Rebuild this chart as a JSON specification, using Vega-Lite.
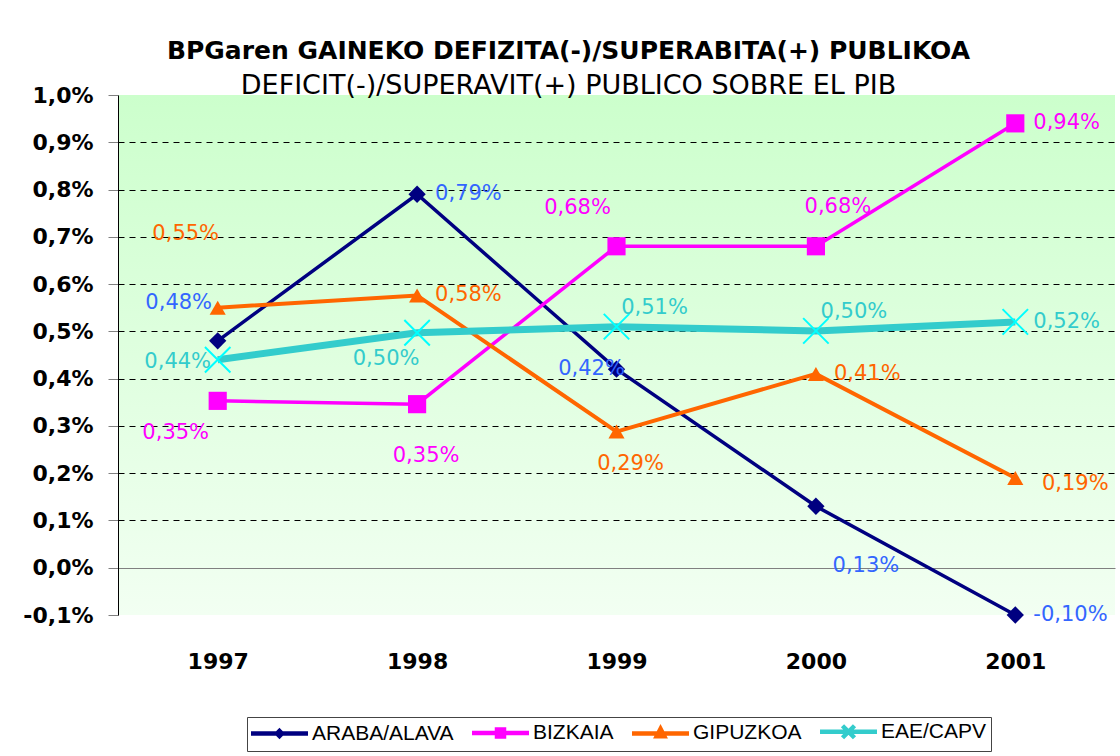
{
  "$schema": "https://vega.github.io/schema/vega-lite/v6.json",
  "width": 997,
  "height": 520,
  "autosize": {"type": "none"},
  "padding": {"left": 118, "top": 95, "right": 5, "bottom": 141},
  "background": "white",
  "config": {
    "locale": {"number": {"decimal": ",", "thousands": ".", "grouping": [3], "currency": ["", " €"], "minus": "-"}},
    "view": {"stroke": null, "fill": {"gradient": "linear", "x1": 0, "y1": 0, "x2": 0, "y2": 1, "stops": [{"offset": 0, "color": "#CCFFCC"}, {"offset": 1, "color": "#F2FFF2"}]}}
  },
  "title": {
    "text": "BPGaren GAINEKO DEFIZITA(-)/SUPERABITA(+) PUBLIKOA",
    "subtitle": "DEFICIT(-)/SUPERAVIT(+) PUBLICO SOBRE EL PIB",
    "frame": "group", "anchor": "middle", "dx": -48, "offset": -15,
    "font": "DejaVu Sans", "fontSize": 25, "fontWeight": "bold", "color": "black",
    "subtitleFont": "DejaVu Sans", "subtitleFontSize": 27, "subtitleFontWeight": "normal", "subtitleColor": "black", "subtitlePadding": 9
  },
  "data": {"values": [
    {"s": "ARABA/ALAVA", "year": "1997", "v": 0.0048},
    {"s": "ARABA/ALAVA", "year": "1998", "v": 0.0079},
    {"s": "ARABA/ALAVA", "year": "1999", "v": 0.0042},
    {"s": "ARABA/ALAVA", "year": "2000", "v": 0.0013},
    {"s": "ARABA/ALAVA", "year": "2001", "v": -0.001},
    {"s": "BIZKAIA", "year": "1997", "v": 0.00353},
    {"s": "BIZKAIA", "year": "1998", "v": 0.00346},
    {"s": "BIZKAIA", "year": "1999", "v": 0.0068},
    {"s": "BIZKAIA", "year": "2000", "v": 0.0068},
    {"s": "BIZKAIA", "year": "2001", "v": 0.0094},
    {"s": "GIPUZKOA", "year": "1997", "v": 0.0055},
    {"s": "GIPUZKOA", "year": "1998", "v": 0.00576},
    {"s": "GIPUZKOA", "year": "1999", "v": 0.00288},
    {"s": "GIPUZKOA", "year": "2000", "v": 0.0041},
    {"s": "GIPUZKOA", "year": "2001", "v": 0.0019},
    {"s": "EAE/CAPV", "year": "1997", "v": 0.0044},
    {"s": "EAE/CAPV", "year": "1998", "v": 0.00497},
    {"s": "EAE/CAPV", "year": "1999", "v": 0.0051},
    {"s": "EAE/CAPV", "year": "2000", "v": 0.00501},
    {"s": "EAE/CAPV", "year": "2001", "v": 0.0052}
  ]},
  "encoding": {
    "x": {"field": "year", "type": "ordinal", "scale": {"type": "point", "padding": 0.5},
      "axis": {"title": null, "domain": false, "ticks": false, "grid": false, "labelAngle": 0, "labelFont": "DejaVu Sans", "labelFontWeight": "bold", "labelFontSize": 22, "labelColor": "black", "labelPadding": 36}},
    "y": {"field": "v", "type": "quantitative", "scale": {"domain": [-0.001, 0.01], "nice": false, "zero": false},
      "axis": {"title": null, "values": [-0.001, 0, 0.001, 0.002, 0.003, 0.004, 0.005, 0.006, 0.007, 0.008, 0.009, 0.01], "format": ".1%",
        "labelFont": "DejaVu Sans", "labelFontWeight": "bold", "labelFontSize": 22, "labelColor": "black", "labelPadding": 15,
        "tickSize": 10, "tickColor": "#808080", "domainColor": "black", "domainWidth": 1,
        "grid": true, "gridWidth": 1,
        "gridColor": {"condition": {"test": "abs(datum.value) < 0.00001", "value": "#808080"}, "value": "black"},
        "gridDash": {"condition": {"test": "abs(datum.value) < 0.00001", "value": []}, "value": [6, 5]},
        "gridOpacity": {"condition": {"test": "datum.value > 0.0095 || datum.value < -0.0005", "value": 0}, "value": 1}}}
  },
  "layer": [
    {
      "transform": [{"filter": "datum.s === 'ARABA/ALAVA'"}],
      "mark": {"type": "line", "color": "#000080", "strokeWidth": 3.5},
      "encoding": {}
    },
    {
      "transform": [{"filter": "datum.s === 'BIZKAIA'"}],
      "mark": {"type": "line", "color": "#FF00FF", "strokeWidth": 3.5},
      "encoding": {}
    },
    {
      "transform": [{"filter": "datum.s === 'GIPUZKOA'"}],
      "mark": {"type": "line", "color": "#FF6600", "strokeWidth": 4},
      "encoding": {}
    },
    {
      "transform": [{"filter": "datum.s === 'EAE/CAPV'"}],
      "mark": {"type": "line", "color": "#33CCCC", "strokeWidth": 7},
      "encoding": {}
    },
    {
      "mark": {"type": "point", "filled": false, "opacity": 0, "strokeWidth": 4.5},
      "encoding": {
        "color": {"field": "s", "type": "nominal",
          "scale": {"domain": ["ARABA/ALAVA", "BIZKAIA", "GIPUZKOA", "EAE/CAPV"], "range": ["#000080", "#FF00FF", "#FF6600", "#33CCCC"]},
          "legend": {
            "orient": "none", "legendX": 129, "legendY": 622, "direction": "horizontal", "title": null,
            "strokeColor": "#444444", "fillColor": "white", "padding": 4,
            "symbolSize": 100, "symbolStrokeWidth": 4.5, "symbolOpacity": 1, "symbolOffset": 18,
            "labelFont": "Liberation Sans", "labelFontSize": 21, "labelColor": "black", "labelOffset": 22, "columnPadding": 9
          }},
        "shape": {"field": "s", "type": "nominal",
          "scale": {"domain": ["ARABA/ALAVA", "BIZKAIA", "GIPUZKOA", "EAE/CAPV"], "range": ["M-5.7,0H5.7M0,-0.5L0.5,0L0,0.5L-0.5,0Z", "M-5.7,0H5.7M-0.7,-0.7H0.7V0.7H-0.7Z", "M-5.7,0H5.7M0,-0.9L0.75,0.55H-0.75Z", "M-5.7,0H5.7M-1.2,-1.2L1.2,1.2M1.2,-1.2L-1.2,1.2"]},
          "legend": {
            "orient": "none", "legendX": 129, "legendY": 622, "direction": "horizontal", "title": null,
            "strokeColor": "#444444", "fillColor": "white", "padding": 4,
            "symbolSize": 100, "symbolStrokeWidth": 4.5, "symbolOpacity": 1, "symbolOffset": 18,
            "labelFont": "Liberation Sans", "labelFontSize": 21, "labelColor": "black", "labelOffset": 22, "columnPadding": 9
          }}
      }
    },
    {
      "transform": [{"filter": "datum.s === 'ARABA/ALAVA'"}],
      "mark": {"type": "point", "filled": true, "opacity": 1, "shape": "diamond", "color": "#000080", "size": 300},
      "encoding": {}
    },
    {
      "transform": [{"filter": "datum.s === 'BIZKAIA'"}],
      "mark": {"type": "point", "filled": true, "opacity": 1, "shape": "square", "color": "#FF00FF", "size": 330},
      "encoding": {}
    },
    {
      "transform": [{"filter": "datum.s === 'GIPUZKOA'"}],
      "mark": {"type": "point", "filled": true, "opacity": 1, "shape": "triangle-up", "color": "#FF6600", "size": 260},
      "encoding": {}
    },
    {
      "transform": [{"filter": "datum.s === 'EAE/CAPV'"}],
      "mark": {"type": "point", "shape": "M-1,-1L1,1M1,-1L-1,1", "filled": false, "stroke": "#00FFFF", "strokeWidth": 2, "size": 650, "opacity": 1},
      "encoding": {}
    },
    {
      "transform": [{"filter": "indexof(['ARABA/ALAVA|1998','ARABA/ALAVA|2001','BIZKAIA|2001','GIPUZKOA|1998','GIPUZKOA|2000','EAE/CAPV|2001'], datum.s + '|' + datum.year) >= 0"}],
      "mark": {"type": "text", "font": "DejaVu Sans", "fontSize": 21, "align": "left", "baseline": "middle", "dx": 18, "dy": 0},
      "encoding": {
        "text": {"field": "v", "type": "quantitative", "format": ".2%"},
        "fill": {"field": "s", "type": "nominal", "scale": {"domain": ["ARABA/ALAVA", "BIZKAIA", "GIPUZKOA", "EAE/CAPV"], "range": ["#3366FF", "#FF00FF", "#FF6600", "#33CCCC"]}, "legend": null}
      }
    },
    {
      "transform": [{"filter": "indexof(['ARABA/ALAVA|1997','BIZKAIA|1999'], datum.s + '|' + datum.year) >= 0"}],
      "mark": {"type": "text", "font": "DejaVu Sans", "fontSize": 21, "align": "center", "baseline": "middle", "dx": -39, "dy": -38},
      "encoding": {"text": {"field": "v", "type": "quantitative", "format": ".2%"}, "fill": {"field": "s", "type": "nominal", "legend": null}}
    },
    {
      "transform": [{"filter": "datum.s === 'ARABA/ALAVA' && datum.year === '1999'"}],
      "mark": {"type": "text", "font": "DejaVu Sans", "fontSize": 21, "align": "center", "baseline": "middle", "dx": -25, "dy": 0},
      "encoding": {"text": {"field": "v", "type": "quantitative", "format": ".2%"}, "fill": {"field": "s", "type": "nominal", "legend": null}}
    },
    {
      "transform": [{"filter": "datum.s === 'ARABA/ALAVA' && datum.year === '2000'"}],
      "mark": {"type": "text", "font": "DejaVu Sans", "fontSize": 21, "align": "center", "baseline": "middle", "dx": 50, "dy": 60},
      "encoding": {"text": {"field": "v", "type": "quantitative", "format": ".2%"}, "fill": {"field": "s", "type": "nominal", "legend": null}}
    },
    {
      "transform": [{"filter": "datum.s === 'BIZKAIA' && datum.year === '1997'"}],
      "mark": {"type": "text", "font": "DejaVu Sans", "fontSize": 21, "align": "center", "baseline": "middle", "dx": -42, "dy": 32},
      "encoding": {"text": {"field": "v", "type": "quantitative", "format": ".2%"}, "fill": {"field": "s", "type": "nominal", "legend": null}}
    },
    {
      "transform": [{"filter": "datum.s === 'BIZKAIA' && datum.year === '1998'"}],
      "mark": {"type": "text", "font": "DejaVu Sans", "fontSize": 21, "align": "center", "baseline": "middle", "dx": 9, "dy": 52},
      "encoding": {"text": {"field": "v", "type": "quantitative", "format": ".2%"}, "fill": {"field": "s", "type": "nominal", "legend": null}}
    },
    {
      "transform": [{"filter": "datum.s === 'BIZKAIA' && datum.year === '2000'"}],
      "mark": {"type": "text", "font": "DejaVu Sans", "fontSize": 21, "align": "center", "baseline": "middle", "dx": 22, "dy": -39},
      "encoding": {"text": {"field": "v", "type": "quantitative", "format": ".2%"}, "fill": {"field": "s", "type": "nominal", "legend": null}}
    },
    {
      "transform": [{"filter": "datum.s === 'GIPUZKOA' && datum.year === '1997'"}],
      "mark": {"type": "text", "font": "DejaVu Sans", "fontSize": 21, "align": "center", "baseline": "middle", "dx": -32, "dy": -74},
      "encoding": {"text": {"field": "v", "type": "quantitative", "format": ".2%"}, "fill": {"field": "s", "type": "nominal", "legend": null}}
    },
    {
      "transform": [{"filter": "datum.s === 'GIPUZKOA' && datum.year === '1999'"}],
      "mark": {"type": "text", "font": "DejaVu Sans", "fontSize": 21, "align": "center", "baseline": "middle", "dx": 14, "dy": 32},
      "encoding": {"text": {"field": "v", "type": "quantitative", "format": ".2%"}, "fill": {"field": "s", "type": "nominal", "legend": null}}
    },
    {
      "transform": [{"filter": "datum.s === 'GIPUZKOA' && datum.year === '2001'"}],
      "mark": {"type": "text", "font": "DejaVu Sans", "fontSize": 21, "align": "center", "baseline": "middle", "dx": 60, "dy": 6},
      "encoding": {"text": {"field": "v", "type": "quantitative", "format": ".2%"}, "fill": {"field": "s", "type": "nominal", "legend": null}}
    },
    {
      "transform": [{"filter": "datum.s === 'EAE/CAPV' && datum.year === '1997'"}],
      "mark": {"type": "text", "font": "DejaVu Sans", "fontSize": 21, "align": "center", "baseline": "middle", "dx": -40, "dy": 2},
      "encoding": {"text": {"field": "v", "type": "quantitative", "format": ".2%"}, "fill": {"field": "s", "type": "nominal", "legend": null}}
    },
    {
      "transform": [{"filter": "datum.s === 'EAE/CAPV' && datum.year === '1998'"}],
      "mark": {"type": "text", "font": "DejaVu Sans", "fontSize": 21, "align": "center", "baseline": "middle", "dx": -31, "dy": 26},
      "encoding": {"text": {"field": "v", "type": "quantitative", "format": ".2%"}, "fill": {"field": "s", "type": "nominal", "legend": null}}
    },
    {
      "transform": [{"filter": "datum.s === 'EAE/CAPV' && (datum.year === '1999' || datum.year === '2000')"}],
      "mark": {"type": "text", "font": "DejaVu Sans", "fontSize": 21, "align": "center", "baseline": "middle", "dx": 38, "dy": -19},
      "encoding": {"text": {"field": "v", "type": "quantitative", "format": ".2%"}, "fill": {"field": "s", "type": "nominal", "legend": null}}
    }
  ]
}
